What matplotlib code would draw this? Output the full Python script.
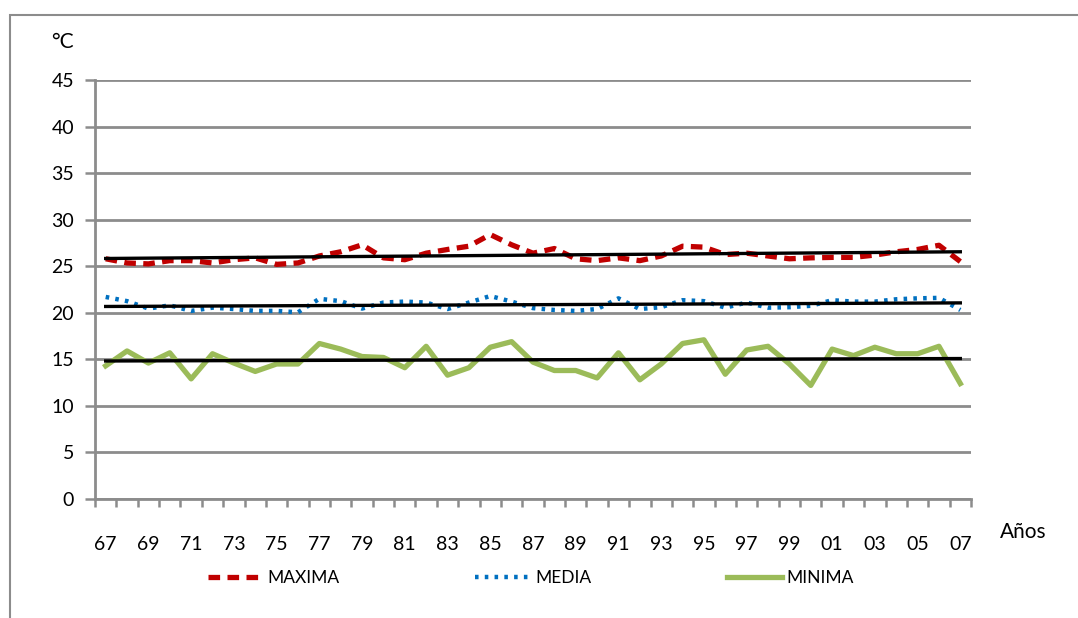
import numpy as np
import matplotlib.pyplot as plt
from matplotlib.patches import Rectangle

plt.rcParams['font.family'] = ['Lato', 'DejaVu Sans']

years = ['67', '68', '69', '70', '71', '72', '73', '74', '75', '76',
         '77', '78', '79', '80', '81', '82', '83', '84', '85', '86',
         '87', '88', '89', '90', '91', '92', '93', '94', '95', '96',
         '97', '98', '99', '00', '01', '02', '03', '04', '05', '06', '07']

maxima = [25.8, 25.35, 25.25, 25.6, 25.6, 25.35, 25.7, 25.9, 25.2, 25.35,
          26.1, 26.55, 27.3, 25.9, 25.7, 26.4, 26.8, 27.15, 28.4, 27.3,
          26.4, 26.9, 25.8, 25.6, 25.9, 25.6, 26.1, 27.15, 27.05, 26.25,
          26.4, 26.1, 25.8, 25.9, 25.95, 25.95, 26.2, 26.55, 26.8, 27.25, 25.5]

media = [21.7, 21.25, 20.45, 20.8, 20.2, 20.55, 20.4, 20.2, 20.2, 20.05,
         21.5, 21.25, 20.45, 21.1, 21.2, 21.1, 20.4, 21.1, 21.8, 21.2,
         20.5, 20.3, 20.2, 20.4, 21.55, 20.4, 20.6, 21.35, 21.25, 20.55,
         21.1, 20.55, 20.6, 20.75, 21.35, 21.2, 21.2, 21.45, 21.55, 21.6, 20.3]

minima = [14.3, 15.9, 14.6, 15.7, 12.9, 15.6, 14.6, 13.7, 14.5, 14.5,
          16.7, 16.1, 15.3, 15.2, 14.1, 16.4, 13.3, 14.1, 16.3, 16.9,
          14.7, 13.8, 13.8, 13.0, 15.7, 12.8, 14.5, 16.7, 17.1, 13.4,
          16.0, 16.4, 14.5, 12.2, 16.1, 15.4, 16.3, 15.6, 15.6, 16.4, 12.4]

yticks = [0, 5, 10, 15, 20, 25, 30, 35, 40, 45]

grid_col = '#8c8c8c'
x = np.arange(len(years))

fig = plt.figure(figsize=(10.78, 6.18), dpi=100)
# chart frame
fig.patches.append(Rectangle((10 / 1078, -0.1), 1.2, 1 - 15 / 618 + 0.1,
                             transform=fig.transFigure, fill=False,
                             edgecolor=grid_col, linewidth=1.5))

ax = fig.add_axes([95 / 1078, 1 - 499 / 618, 876 / 1078, 419 / 618])

ax.plot(x, maxima, color='#C00000', lw=3.8, dashes=(2.2, 1.4), label='MAXIMA', zorder=3)
ax.plot(x, media, color='#0070C0', lw=3.2, linestyle=(0, (0.8, 1.4)), label='MEDIA', zorder=3)
ax.plot(x, minima, color='#9BBB59', lw=3.8, label='MINIMA', zorder=3)

# linear trends
for series in (maxima, media, minima):
    k, b = np.polyfit(x, series, 1)
    ax.plot(x, k * x + b, color='black', lw=2.4, zorder=4)

ax.set_xlim(-0.5, len(years) - 0.5)
ax.set_ylim(0, 45)
ax.set_yticks(yticks)
ax.set_yticklabels([str(v) for v in yticks], fontsize=14)
ax.set_xticks(x[::2])
ax.set_xticklabels(years[::2], fontsize=14)
ax.set_xticks(np.arange(len(years) + 1) - 0.5, minor=True)
ax.tick_params(axis='x', which='major', length=0, pad=27)
ax.tick_params(axis='x', which='minor', length=6, width=1.8, color=grid_col)
ax.tick_params(axis='y', length=7, width=1.8, color=grid_col, pad=8)

ax.grid(axis='y', color=grid_col, lw=2)
ax.set_axisbelow(True)
for s in ('top', 'right'):
    ax.spines[s].set_visible(False)
for s in ('left', 'bottom'):
    ax.spines[s].set_color(grid_col)
    ax.spines[s].set_linewidth(2)

fig.text(62 / 1078, 1 - 42 / 618, '°C', fontsize=15, ha='center', va='center')
fig.text(1023 / 1078, 1 - 532 / 618, 'Años', fontsize=15, ha='center', va='center')

fig.legend(loc='center', bbox_to_anchor=(531 / 1078, 1 - 578 / 618), ncol=3,
           frameon=False, fontsize=12.5, handlelength=3.2, columnspacing=7.8,
           handletextpad=0.25)

fig.savefig('out.png', dpi=100)
